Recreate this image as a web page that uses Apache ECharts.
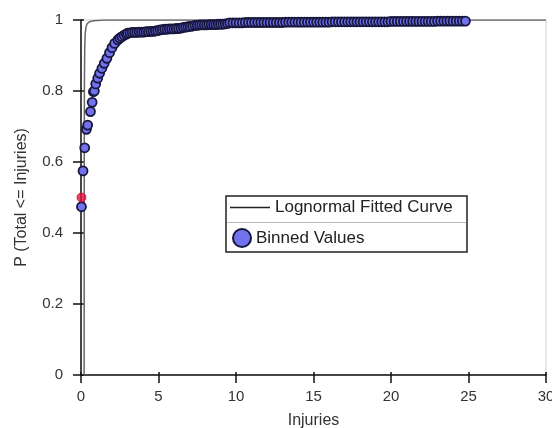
<!DOCTYPE html>
<html>
<head>
<meta charset="utf-8">
<script src="https://cdn.jsdelivr.net/npm/echarts@6/dist/echarts.min.js"></script>
<style>
html,body{margin:0;padding:0;background:#fff;}
#chart{width:552px;height:428px;}
</style>
</head>
<body>
<div id="chart"></div>
<script>
// Tick values
var xTicks = [0, 5, 10, 15, 20, 25, 30];
var yTicks = [0, 0.2, 0.4, 0.6, 0.8, 1];

// Lognormal fitted curve
var fitX = [0.2, 0.205, 0.21, 0.22, 0.24, 0.27, 0.32, 0.4, 0.55, 0.8, 1.5, 30];
var fitY = [0.0, 0.3, 0.6, 0.82, 0.92, 0.96, 0.98, 0.99, 0.995, 0.998, 1.0, 1.0];

// Binned values
var binX = [0.03, 0.13, 0.24, 0.35, 0.43, 0.61, 0.72, 0.8, 0.86, 0.95, 1.08, 1.2, 1.35, 1.5, 1.67, 1.84, 2.0, 2.17, 2.38, 2.5, 2.64, 2.78, 2.92,
  3.0, 3.15, 3.3, 3.45, 3.6, 3.75, 3.9, 4.05, 4.2, 4.35, 4.5, 4.65, 4.8, 4.95,
  5.1, 5.25, 5.4, 5.55, 5.7, 5.85, 6.0, 6.15, 6.3, 6.45,
  6.6, 6.75, 6.9, 7.05, 7.2,
  7.35, 7.5, 7.65, 7.8, 7.95, 8.1, 8.25, 8.4, 8.55, 8.7, 8.85, 9.0, 9.15, 9.3, 9.45,
  9.6, 9.8, 10.0, 10.2, 10.4,
  10.6, 10.8, 11.0, 11.2, 11.4, 11.6, 11.8, 12.0, 12.2, 12.4, 12.6, 12.8, 13.0,
  13.2, 13.4, 13.6, 13.8, 14.0, 14.2, 14.4, 14.6, 14.8, 15.0, 15.2, 15.4, 15.6, 15.8, 16.0,
  16.2, 16.4, 16.6, 16.8, 17.0, 17.2, 17.4, 17.6, 17.8, 18.0, 18.2, 18.4, 18.6, 18.8, 19.0, 19.2, 19.4, 19.6, 19.8,
  20.0, 20.2, 20.4, 20.6, 20.8, 21.0, 21.2, 21.4, 21.6, 21.8, 22.0, 22.2, 22.4, 22.6, 22.8,
  23.0, 23.2, 23.4, 23.6, 23.8, 24.0, 24.2, 24.4, 24.6, 24.8];
var binY = [0.474, 0.575, 0.640, 0.692, 0.704, 0.742, 0.768, 0.798, 0.800, 0.820, 0.836, 0.850, 0.864, 0.878, 0.892, 0.908, 0.922, 0.934, 0.944, 0.949, 0.953, 0.957, 0.960,
  0.963, 0.964, 0.965, 0.965, 0.965, 0.966, 0.966, 0.966, 0.967, 0.967, 0.968, 0.968, 0.969, 0.970,
  0.972, 0.973, 0.974, 0.974, 0.975, 0.975, 0.975, 0.976, 0.976, 0.977,
  0.979, 0.980, 0.981, 0.982, 0.983,
  0.985, 0.985, 0.986, 0.986, 0.986, 0.986, 0.987, 0.987, 0.987, 0.987, 0.988, 0.988, 0.988, 0.989, 0.990,
  0.992, 0.992, 0.992, 0.992, 0.992,
  0.993, 0.993, 0.993, 0.993, 0.993, 0.993, 0.993, 0.993, 0.993, 0.993, 0.993, 0.993, 0.993,
  0.994, 0.994, 0.994, 0.994, 0.994, 0.994, 0.994, 0.994, 0.994, 0.994, 0.994, 0.994, 0.994, 0.994, 0.994,
  0.995, 0.995, 0.995, 0.995, 0.995, 0.995, 0.995, 0.995, 0.995, 0.995, 0.995, 0.995, 0.995, 0.995, 0.995, 0.995, 0.995, 0.995, 0.995,
  0.996, 0.996, 0.996, 0.996, 0.996, 0.996, 0.996, 0.996, 0.996, 0.996, 0.996, 0.996, 0.996, 0.996, 0.996,
  0.997, 0.997, 0.997, 0.997, 0.997, 0.997, 0.997, 0.997, 0.997, 0.997];

// Highlighted value
var markX = [0.03];
var markY = [0.5];

function zip(a, b) { return a.map(function (v, i) { return [v, b[i]]; }); }

var chart = echarts.init(document.getElementById('chart'), null, {renderer: 'canvas'});
var font = '"Liberation Sans", Arial, sans-serif';
var axisCommonX = {type: 'value', min: xTicks[0], max: xTicks[xTicks.length - 1], interval: 5};
var axisCommonY = {type: 'value', min: yTicks[0], max: yTicks[yTicks.length - 1], interval: 0.2};

chart.setOption({
  animation: false,
  backgroundColor: '#ffffff',
  textStyle: {fontFamily: font},
  grid: {left: 81, right: 6, top: 20, bottom: 53, containLabel: false, outerBoundsMode: 'none',
    show: true, borderColor: '#d0d0d0', borderWidth: 1, backgroundColor: 'transparent'},
  xAxis: [
    Object.assign({}, axisCommonX, {
      position: 'bottom',
      name: 'Injuries', nameLocation: 'middle', nameGap: 38,
      nameTextStyle: {fontSize: 16, color: '#333', fontFamily: font},
      axisLine: {show: true, onZero: false, lineStyle: {color: '#111', width: 1.5}},
      axisTick: {show: true, inside: false, length: 8, lineStyle: {color: '#111', width: 1.5}},
      axisLabel: {show: true, fontSize: 15, color: '#333', margin: 14, fontFamily: font},
      splitLine: {show: false}
    }),
    Object.assign({}, axisCommonX, {
      position: 'bottom',
      axisLine: {show: false},
      axisTick: {show: true, inside: true, length: 3, lineStyle: {color: '#111', width: 1.5}},
      axisLabel: {show: false},
      splitLine: {show: false}
    })
  ],
  yAxis: [
    Object.assign({}, axisCommonY, {
      position: 'left',
      name: 'P (Total <= Injuries)', nameLocation: 'middle', nameGap: 51,
      nameTextStyle: {fontSize: 16, color: '#333', fontFamily: font},
      axisLine: {show: true, onZero: false, lineStyle: {color: '#111', width: 1.5}},
      axisTick: {show: true, inside: false, length: 8, lineStyle: {color: '#111', width: 1.5}},
      axisLabel: {show: true, fontSize: 15, color: '#333', margin: 18, fontFamily: font},
      splitLine: {show: false}
    }),
    Object.assign({}, axisCommonY, {
      position: 'left',
      axisLine: {show: false},
      axisTick: {show: true, inside: true, length: 3, lineStyle: {color: '#111', width: 1.5}},
      axisLabel: {show: false},
      splitLine: {show: false}
    })
  ],
  legend: [
    {
      left: 230, top: 199, z: 10,
      data: [{name: 'Lognormal Fitted Curve', icon: 'rect', itemStyle: {color: '#222', borderWidth: 0}}],
      itemWidth: 40, itemHeight: 1.5, itemGap: 0, padding: 0,
      textStyle: {fontSize: 17, color: '#222', fontFamily: font}
    },
    {
      left: 232, top: 228, z: 10,
      data: ['Binned Values'],
      itemWidth: 18, itemHeight: 18, itemGap: 0, padding: 0,
      textStyle: {fontSize: 17, color: '#222', fontFamily: font}
    }
  ],
  graphic: [
    {type: 'rect', z: 5, shape: {x: 226, y: 196, width: 241, height: 56},
     style: {fill: '#fff', stroke: '#222', lineWidth: 1.5}},
    {type: 'line', z: 6, shape: {x1: 227, y1: 222.5, x2: 466, y2: 222.5},
     style: {stroke: '#bbb', lineWidth: 1}}
  ],
  series: [
    {
      name: 'Lognormal Fitted Curve', type: 'line', xAxisIndex: 0, yAxisIndex: 0,
      data: zip(fitX, fitY), showSymbol: false, symbol: 'none', smooth: false,
      lineStyle: {color: '#666', width: 1.5}, itemStyle: {color: '#333'}, z: 2
    },
    {
      name: 'Binned Values', type: 'scatter', xAxisIndex: 0, yAxisIndex: 0,
      data: zip(binX, binY), symbol: 'circle', symbolSize: 9,
      itemStyle: {color: '#7272ec', borderColor: '#16163e', borderWidth: 1.8, opacity: 1}, z: 3
    },
    {
      name: 'Highlighted', type: 'scatter', xAxisIndex: 0, yAxisIndex: 0,
      data: zip(markX, markY), symbol: 'circle', symbolSize: 9,
      itemStyle: {color: '#e4123c', borderColor: '#c01040', borderWidth: 1}, z: 4
    }
  ]
});
</script>
</body>
</html>
